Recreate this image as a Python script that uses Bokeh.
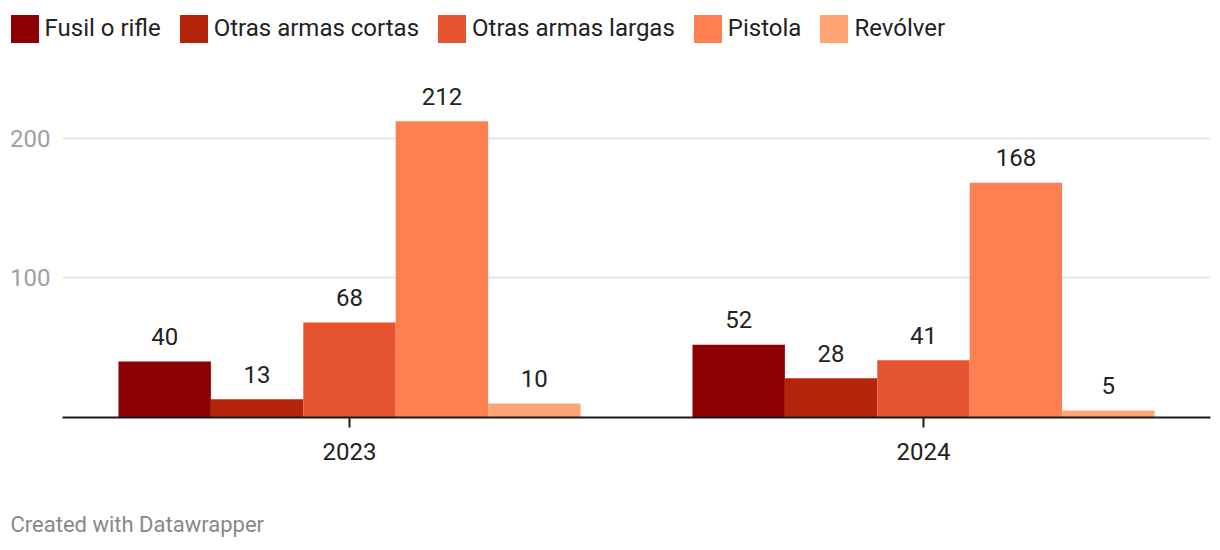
from bokeh.plotting import figure
from bokeh.models import (ColumnDataSource, FactorRange, Range1d, Legend, LegendItem,
                          FixedTicker, Label)
from bokeh.transform import dodge
from bokeh.layouts import column
from bokeh.core.properties import value
from bokeh.embed import file_html
from bokeh.resources import INLINE

# ---- data ----
years = ["2023", "2024"]
series = ["Fusil o rifle", "Otras armas cortas", "Otras armas largas", "Pistola", "Revólver"]
fusil = [40, 52]
cortas = [13, 28]
largas = [68, 41]
pistola = [212, 168]
revolver = [10, 5]
y_ticks = [100, 200]
footer_text = "Created with Datawrapper"

values = [fusil, cortas, largas, pistola, revolver]
colors = ["#8b0000", "#b5250b", "#e5532f", "#ff7f50", "#ffa575"]
FONT = "Roboto"
W = 1220
LEG_H, MAIN_H, FOOT_H = 60, 430, 60
PX_PER_UNIT = 1.3975

data = {"year": years}
keys = ["s0", "s1", "s2", "s3", "s4"]
for k, v in zip(keys, values):
    data[k] = v
    data[k + "_lbl"] = [str(x) for x in v]
source = ColumnDataSource(data)

bar_w = 0.161
offsets = [-2 * bar_w, -bar_w, 0, bar_w, 2 * bar_w]


def bare(height, **kw):
    f = figure(width=W, height=height, output_backend="svg", toolbar_location=None,
               x_axis_location=None, y_axis_location=None,
               min_border_left=0, min_border_right=0, min_border_top=0,
               min_border_bottom=0, **kw)
    f.grid.visible = False
    f.outline_line_color = None
    f.frame_align = False
    return f


# ---- legend strip ----
leg = bare(LEG_H, x_range=FactorRange(*years, range_padding=0), y_range=Range1d(1000, 1001))
items = []
for k, off, c, name in zip(keys, offsets, colors, series):
    r = leg.vbar(x=dodge("year", off, range=leg.x_range), top=k, width=bar_w,
                 source=source, fill_color=c, line_color=None)
    items.append(LegendItem(label=name, renderers=[r]))
legend = Legend(items=items, orientation="horizontal", location=(6.5, LEG_H - 10.5 - 35),
                glyph_width=35, glyph_height=35, label_height=35, label_standoff=3,
                spacing=15, padding=0, margin=0, border_line_color=None,
                background_fill_alpha=0, label_text_font=FONT,
                label_text_font_size="24px", label_text_color="#222222")
leg.add_layout(legend, "center")

# ---- main chart ----
TOP, BASE = 10, 417 - LEG_H
p = figure(width=W, height=MAIN_H, x_range=FactorRange(*years, range_padding=0),
           y_range=Range1d(0, (BASE - TOP) / PX_PER_UNIT), output_backend="svg",
           toolbar_location=None, min_border_left=62, min_border_right=10,
           min_border_top=TOP, min_border_bottom=MAIN_H - BASE)
p.outline_line_color = None
p.frame_align = False
for k, off, c in zip(keys, offsets, colors):
    p.vbar(x=dodge("year", off, range=p.x_range), top=k, width=bar_w,
           source=source, fill_color=c, line_color=None)
    p.text(x=dodge("year", off, range=p.x_range), y=k, text=k + "_lbl", source=source,
           text_align="center", text_baseline="middle", y_offset=-25,
           text_font=value(FONT), text_font_size="24px", text_color="#222222")

p.xgrid.visible = False
p.ygrid.grid_line_color = "#e6e6e6"
p.ygrid.grid_line_width = 2
p.yaxis.ticker = FixedTicker(ticks=y_ticks)
p.yaxis.axis_line_color = None
p.yaxis.major_tick_line_color = None
p.yaxis.minor_tick_line_color = None
p.yaxis.major_tick_in = 0
p.yaxis.major_tick_out = 0
p.yaxis.major_label_standoff = 12
p.yaxis.major_label_text_font = FONT
p.yaxis.major_label_text_font_size = "24px"
p.yaxis.major_label_text_color = "#a0a0a0"

p.xaxis.axis_line_color = "#1a1a1a"
p.xaxis.axis_line_width = 2
p.xaxis.major_tick_line_color = "#1a1a1a"
p.xaxis.major_tick_line_width = 2
p.xaxis.major_tick_in = 0
p.xaxis.major_tick_out = 10
p.xaxis.major_label_standoff = 15
p.xaxis.major_label_text_font = FONT
p.xaxis.major_label_text_font_size = "24px"
p.xaxis.major_label_text_color = "#222222"

# ---- footer strip ----
ft = bare(FOOT_H, x_range=Range1d(0, W), y_range=Range1d(0, FOOT_H))
ft.add_layout(Label(x=10, y=FOOT_H - (524 - LEG_H - MAIN_H), text=footer_text,
                    text_font=FONT, text_font_size="22px", text_color="#888888",
                    text_baseline="middle", text_align="left"))

layout = column(leg, p, ft)
open("out.html", "w").write(file_html(layout, INLINE))
